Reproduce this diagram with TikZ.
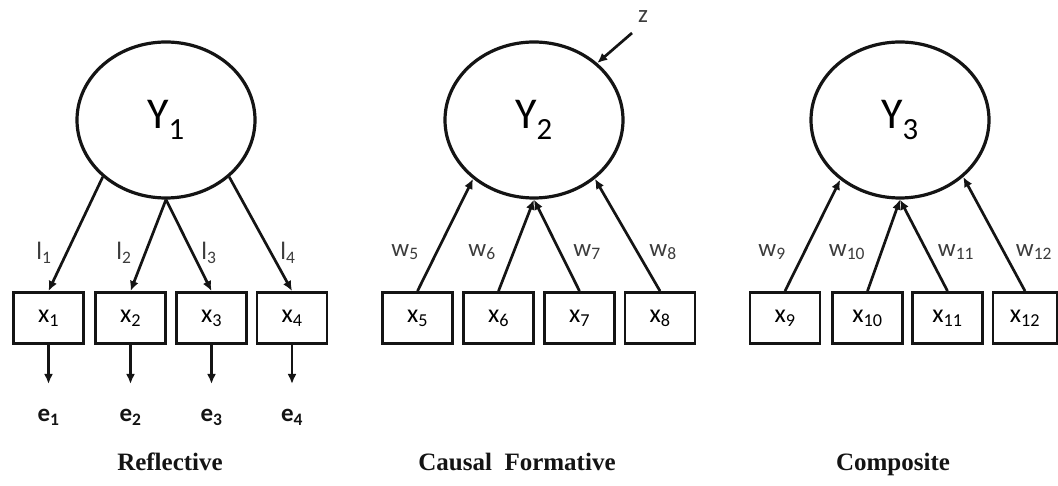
\documentclass[tikz,border=0pt]{standalone}
\usepackage{fontspec}
\setmainfont{Carlito}
\newfontfamily\titlefont{Liberation Serif}
\usetikzlibrary{arrows.meta,shapes.geometric}
\definecolor{ink}  {HTML}{141414}
\definecolor{muted}{HTML}{3C3C3C}

\begin{document}
\begin{tikzpicture}[x=1pt,y=-1pt,
  latent/.style={draw=ink,line width=3.2pt,ellipse,inner sep=0pt,
                 minimum width=178pt,minimum height=156pt,
                 font=\fontsize{44}{46}\selectfont},
  indic/.style={draw=ink,line width=2.9pt,inner sep=0pt,
                minimum width=70pt,minimum height=51pt,
                font=\fontsize{26}{28}\selectfont},
  link/.style={draw=ink,line width=2.7pt,-{Latex[length=10pt,width=9pt]}},
  wgt/.style={color=muted,inner sep=0pt,font=\fontsize{25}{27}\selectfont},
  err/.style={color=ink,inner sep=0pt,anchor=north,
              font=\fontsize{25}{27}\selectfont\bfseries},
  caption/.style={color=ink,anchor=base,
                  font=\fontsize{25}{27}\selectfont\titlefont\bfseries}]
  \fill[white] (0,0) rectangle (1058,486);
  \useasboundingbox (0,0) rectangle (1058,486);

  % latent variables
  \node[latent] (Y1) at (166,120) {Y\textsubscript{1}};
  \node[latent] (Y2) at (534,120) {Y\textsubscript{2}};
  \node[latent] (Y3) at (900,120) {Y\textsubscript{3}};

  % indicators
  \foreach \i/\x in {1/48.5,2/130.5,3/211.5,4/292,5/417.5,6/498.5,7/579.5,
                     8/660,9/785,10/867.5,11/947.5}{
    \node[indic] (x\i) at (\x,318) {x\textsubscript{\i}};}
  \node[indic,minimum width=64pt] (x12) at (1025,318) {x\textsubscript{12}};

  % reflective: loadings and errors
  \foreach \i/\a in {1/-138,2/-90,3/-90,4/-42}{
    \draw[link] (Y1.\a) -- (x\i.north);
    \node[err] (e\i) at ([yshift=-64pt]x\i.south) {e\textsubscript{\i}};
    \draw[link,shorten >=25pt] (x\i.south) -- (e\i.north);}
  \foreach \i/\x in {1/44,2/124,3/209,4/288}{
    \node[wgt] (l\i) at (\x,253) {l\textsubscript{\i}};}

  % causal formative
  \foreach \i/\a in {5/-136,6/-90,7/-90,8/-44}{
    \draw[link] (x\i.north) -- (Y2.\a);}
  \foreach \i/\x in {5/405,6/482,7/587,8/663}{
    \node[wgt] (w\i) at (\x,252) {w\textsubscript{\i}};}
  \node[wgt] (z) at (643,17) {z};
  \coordinate (zs) at (632,33);
  \draw[link] (zs) -- (Y2.42);

  % composite
  \foreach \i/\a in {9/-135,10/-90,11/-90,12/-42}{
    \draw[link] (x\i.north) -- (Y3.\a);}
  \foreach \i/\x in {9/772,10/847,11/956,12/1034}{
    \node[wgt] (w\i) at (\x,252) {w\textsubscript{\i}};}

  \node[caption] (reflective) at (170,470) {Reflective};
  \node[caption] (causal) at (517,470) {Causal\ \ Formative};
  \node[caption] (composite) at (893,470) {Composite};
\end{tikzpicture}
\end{document}
